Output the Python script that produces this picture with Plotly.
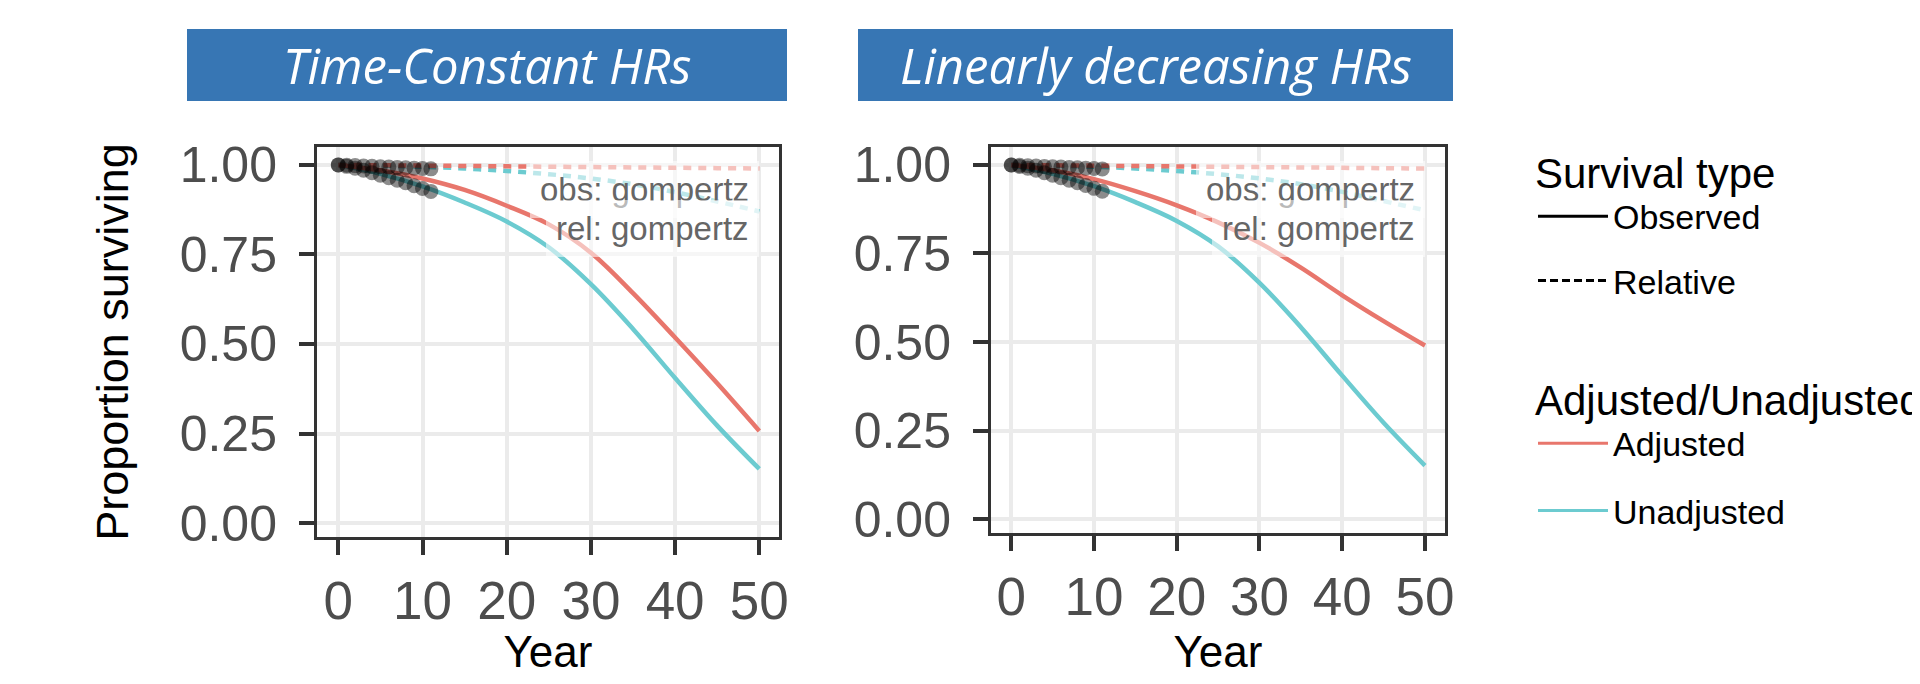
import plotly.graph_objects as go

# ---------------- data ----------------
curve_years = [0, 5, 10, 15, 20, 25, 30, 35, 40, 45, 50]

# Time-Constant HRs panel
tc_adj_obs = [1.0, 0.985, 0.962, 0.93, 0.886, 0.834, 0.755, 0.642, 0.518, 0.39, 0.257]
tc_unadj_obs = [1.0, 0.975, 0.94, 0.895, 0.842, 0.77, 0.667, 0.542, 0.405, 0.272, 0.151]
tc_adj_rel = [1.0, 0.999, 0.998, 0.997, 0.996, 0.995, 0.994, 0.993, 0.992, 0.991, 0.99]
tc_unadj_rel = [1.0, 0.998, 0.995, 0.99, 0.983, 0.974, 0.962, 0.946, 0.924, 0.898, 0.87]

# Linearly decreasing HRs panel
ld_adj_obs = [1.0, 0.985, 0.96, 0.926, 0.886, 0.838, 0.780, 0.710, 0.632, 0.559, 0.49]
ld_unadj_obs = [1.0, 0.975, 0.94, 0.895, 0.842, 0.77, 0.667, 0.542, 0.405, 0.272, 0.151]
ld_adj_rel = [1.0, 0.999, 0.998, 0.997, 0.996, 0.995, 0.994, 0.993, 0.992, 0.991, 0.99]
ld_unadj_rel = [1.0, 0.998, 0.995, 0.99, 0.983, 0.974, 0.962, 0.946, 0.924, 0.898, 0.872]

# observed Kaplan-Meier style points (years 0..11)
km_years = [0, 1, 2, 3, 4, 5, 6, 7, 8, 9, 10, 11]
km_obs = [1.0, 0.996, 0.991, 0.985, 0.978, 0.971, 0.964, 0.957, 0.950, 0.942, 0.934, 0.926]
km_rel = [1.0, 0.999, 0.998, 0.997, 0.996, 0.995, 0.994, 0.993, 0.992, 0.991, 0.990, 0.989]

panel_titles = ["Time-Constant HRs", "Linearly decreasing HRs"]
x_ticks = [0, 10, 20, 30, 40, 50]
y_ticks = [0, 0.25, 0.5, 0.75, 1.0]
label_obs = "obs: gompertz"
label_rel = "rel: gompertz"

# ---------------- style ----------------
RED = "#E8766C"
TEAL = "#6CCBD0"
FONT = "Liberation Sans"
BODY = 8                       # default page body margin
W, H = 1920 - 2 * BODY, 684 - 2 * BODY

def px_x(p):                   # page pixel -> paper fraction
    return (p - BODY) / W

def px_y(p):
    return 1 - (p - BODY) / H

fig = go.Figure()

panels = [
    ("x", "y", tc_adj_obs, tc_unadj_obs, tc_adj_rel, tc_unadj_rel),
    ("x2", "y2", ld_adj_obs, ld_unadj_obs, ld_adj_rel, ld_unadj_rel),
]

for xa, ya, a_obs, u_obs, a_rel, u_rel in panels:
    for vals, col, dash in [(u_rel, TEAL, "8px,7px"), (a_rel, RED, "8px,7px"),
                            (u_obs, TEAL, "solid"), (a_obs, RED, "solid")]:
        fig.add_trace(go.Scatter(
            x=curve_years, y=vals, mode="lines", xaxis=xa, yaxis=ya,
            line=dict(color=col, width=4.5, dash=dash, shape="spline", smoothing=1.0),
            showlegend=False, hoverinfo="skip"))
    for vals in [km_rel, km_obs]:
        fig.add_trace(go.Scatter(
            x=km_years, y=vals, mode="markers", xaxis=xa, yaxis=ya,
            marker=dict(color="rgba(0,0,0,0.45)", size=15, line=dict(width=0)),
            showlegend=False, hoverinfo="skip"))

# legend entries
fig.add_trace(go.Scatter(x=[None], y=[None], mode="lines", name="Observed",
                         line=dict(color="black", width=3), legend="legend"))
fig.add_trace(go.Scatter(x=[None], y=[None], mode="lines", name="Relative",
                         line=dict(color="black", width=3, dash="8px,4px"), legend="legend2"))
fig.add_trace(go.Scatter(x=[None], y=[None], mode="lines", name="Adjusted",
                         line=dict(color=RED, width=3), legend="legend3"))
fig.add_trace(go.Scatter(x=[None], y=[None], mode="lines", name="Unadjusted",
                         line=dict(color=TEAL, width=3), legend="legend4"))

axis_common = dict(
    showgrid=True, gridcolor="#EBEBEB", gridwidth=4, zeroline=False,
    showline=True, mirror=True, linecolor="#333333", linewidth=3,
    ticks="outside", ticklen=15, tickwidth=4, tickcolor="#333333",
    automargin=False,
)

leg_common = dict(xanchor="left", yanchor="top", font=dict(size=34, color="black"),
                  itemwidth=70, bgcolor="rgba(0,0,0,0)", borderwidth=0)
LEG_X = px_x(1533)

fig.update_layout(
    width=W, height=H,
    margin=dict(l=0, r=0, t=0, b=0, autoexpand=False),
    paper_bgcolor="white", plot_bgcolor="white",
    font=dict(family=FONT, color="black"),
    xaxis=dict(domain=[px_x(317), px_x(779)], range=[-2.53, 52.34], anchor="y",
               tickvals=x_ticks, tickfont=dict(size=53, color="#4D4D4D"),
               title=dict(text="Year", font=dict(size=44, color="black"), standoff=20),
               **axis_common),
    yaxis=dict(domain=[px_y(537), px_y(147)], range=[-0.039, 1.050], anchor="x",
               tickvals=y_ticks, tickformat=".2f", tickfont=dict(size=50, color="#4D4D4D"),
               ticklabelstandoff=12,
               title=dict(text="Proportion surviving", font=dict(size=45, color="black"), standoff=37),
               **axis_common),
    xaxis2=dict(domain=[px_x(991), px_x(1445)], range=[-2.45, 52.42], anchor="y2",
                tickvals=x_ticks, tickfont=dict(size=53, color="#4D4D4D"),
                title=dict(text="Year", font=dict(size=44, color="black"), standoff=20),
                **axis_common),
    yaxis2=dict(domain=[px_y(533), px_y(147)], range=[-0.0395, 1.0508], anchor="x2",
                tickvals=y_ticks, tickformat=".2f", tickfont=dict(size=50, color="#4D4D4D"),
                ticklabelstandoff=12,
                **axis_common),
    legend=dict(x=LEG_X, y=px_y(133),
                title=dict(text="Survival type", font=dict(size=42, color="black")),
                **leg_common),
    legend2=dict(x=LEG_X, y=px_y(252), **leg_common),
    legend3=dict(x=LEG_X, y=px_y(360),
                 title=dict(text="Adjusted/Unadjusted", font=dict(size=42, color="black")),
                 **leg_common),
    legend4=dict(x=LEG_X, y=px_y(482), **leg_common),
)

# banners
banners = [(187, 787), (858, 1453)]
for (bx0, bx1), title in zip(banners, panel_titles):
    fig.add_shape(type="rect", xref="paper", yref="paper",
                  x0=px_x(bx0), x1=px_x(bx1), y0=px_y(101), y1=px_y(29),
                  fillcolor="#3776B4", line=dict(width=0), layer="above")
    fig.add_annotation(xref="paper", yref="paper", x=px_x((bx0 + bx1) / 2), y=px_y(65),
                       text=title, showarrow=False, xanchor="center", yanchor="middle",
                       font=dict(family="Open Sans", size=49, color="white", style="italic"))

# model labels
for xa, ya in [("x", "y"), ("x2", "y2")]:
    for txt, yv in [(label_obs, 0.93), (label_rel, 0.822)]:
        fig.add_annotation(xref=xa, yref=ya, x=50, y=yv, text=txt, showarrow=False,
                           xanchor="right", yanchor="middle",
                           font=dict(family=FONT, size=33, color="#666666"),
                           bgcolor="rgba(255,255,255,0.55)", borderpad=10, borderwidth=0)

fig.write_html("out.html")
